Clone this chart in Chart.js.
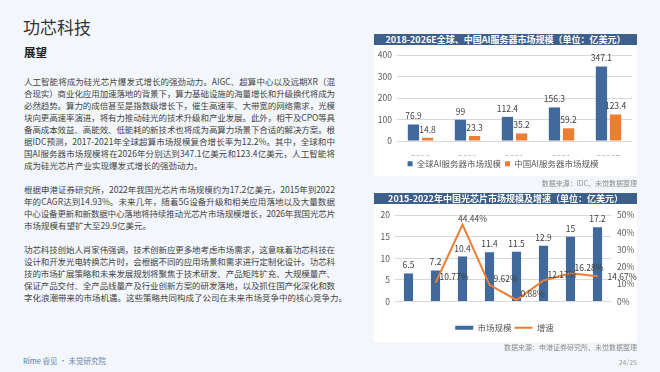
<!DOCTYPE html>
<html>
<head>
<meta charset="utf-8">
<script src="https://cdn.jsdelivr.net/npm/chart.js@4.4.1/dist/chart.umd.min.js"></script>
<style>
  body { margin: 0; width: 660px; height: 372px; overflow: hidden; position: relative;
         background: #f3f7fb; font-family: "Noto Sans CJK SC", "Noto Sans", sans-serif; }
  .abs { position: absolute; }
  #title { left: 23px; top: 15px; font-size: 17px; color: #333; line-height: 24px; }
  #sub { left: 24px; top: 44px; font-size: 11.5px; font-weight: bold; color: #222; line-height: 16px; }
  #txt { left: 24px; top: 75px; font-size: 8.5px; color: #444; }
  #txt div { height: 12px; line-height: 12px; white-space: nowrap; }
  #txt span { display: inline-block; }
  .box { background: #fff; left: 374px; width: 263px; }
  .bar { left: 374px; width: 263px; background: #3d5f8c; color: #fff; font-weight: bold;
         font-size: 9px; text-align: center; line-height: 11px; height: 11px; }
  .src { right: 23px; font-size: 7px; color: #8c8c8c; line-height: 10px; }
  #foot { left: 23px; top: 356px; font-size: 7.5px; color: #6f86a6; line-height: 10px; }
  #foot b { color: #4f74a8; font-weight: normal; }
  #page { right: 23px; top: 357px; font-size: 7px; color: #9a9a9a; line-height: 10px; }
  canvas { position: absolute; }
</style>
</head>
<body>
<div id="title" class="abs">功芯科技</div>
<div id="sub" class="abs">展望</div>
<div id="txt" class="abs"></div>

<div class="abs box" style="top:34px;height:142px"></div>
<div class="abs bar" style="top:34px">2018-2026E全球、中国AI服务器市场规模（单位：亿美元）</div>
<canvas id="c1" width="263" height="140" style="left:374px;top:45px"></canvas>
<div class="abs src" style="top:178px">数据来源：IDC、未觉数据整理</div>

<div class="abs box" style="top:193px;height:149px"></div>
<div class="abs bar" style="top:193px">2015-2022年中国光芯片市场规模及增速（单位：亿美元）</div>
<canvas id="c2" width="263" height="140" style="left:374px;top:204px"></canvas>
<div class="abs src" style="top:342px">数据来源：申港证券研究所、未觉数据整理</div>

<div id="foot" class="abs"><b>Rime</b> 睿见 · 未觉研究院</div>
<div id="page" class="abs">24/25</div>

<script>
const paragraphs = [
  [
    "人工智能将成为硅光芯片爆发式增长的强劲动力。AIGC、超算中心以及远期XR（混",
    "合现实）商业化应用加速落地的背景下，算力基础设施的海量增长和升级换代将成为",
    "必然趋势。算力的成倍甚至是指数级增长下，催生高速率、大带宽的网络需求，光模",
    "块向更高速率演进，将有力推动硅光的技术升级和产业发展。此外，相干及CPO等具",
    "备高成本效益、高能效、低能耗的新技术也将成为高算力场景下合适的解决方案。根",
    "据IDC预测，2017-2021年全球超算市场规模复合增长率为12.2%。其中，全球和中",
    "国AI服务器市场规模将在2026年分别达到347.1亿美元和123.4亿美元，人工智能将",
    "成为硅光芯片产业实现爆发式增长的强劲动力。"
  ],
  [
    "根据申港证券研究所，2022年我国光芯片市场规模约为17.2亿美元，2015年到2022",
    "年的CAGR达到14.93%。未来几年，随着5G设备升级和相关应用落地以及大量数据",
    "中心设备更新和新数据中心落地将持续推动光芯片市场规模增长，2026年我国光芯片",
    "市场规模有望扩大至29.9亿美元。"
  ],
  [
    "功芯科技创始人肖家伟强调，技术创新应更多地考虑市场需求，这意味着功芯科技在",
    "设计和开发光电转换芯片时，会根据不同的应用场景和需求进行定制化设计。功芯科",
    "技的市场扩展策略和未来发展规划将聚焦于技术研发、产品矩阵扩充、大规模量产、",
    "保证产品交付、全产品线量产及行业创新方案的研发落地，以及抓住国产化深化和数",
    "字化浪潮带来的市场机遇。这些策略共同构成了公司在未来市场竞争中的核心竞争力。"
  ]
];

// chart 1
const years1 = ['2018', '2019', '2020', '2021', '2026E'];
const globalAI = [76.9, 99, 112.4, 156.3, 347.1];
const chinaAI = [14.8, 23.3, 35.2, 59.2, 123.4];

// chart 2
const years2 = ['2015', '2016', '2017', '2018', '2019', '2020', '2021', '2022'];
const chipMarket = [6.5, 7.2, 10.4, 11.4, 11.5, 12.9, 15, 17.2];
const chipGrowth = [null, 10.77, 44.44, 9.62, 0.88, 12.17, 16.28, 14.67];

// text block, every line stretched to the same width
const txt = document.getElementById('txt');
const lineW = 311;
paragraphs.forEach((p, pi) => {
  if (pi > 0) txt.appendChild(document.createElement('div'));
  p.forEach((line, li) => {
    const d = document.createElement('div');
    const s = document.createElement('span');
    s.textContent = line;
    d.appendChild(s);
    txt.appendChild(d);
    if (li < p.length - 1) {
      const w = s.getBoundingClientRect().width;
      s.style.letterSpacing = ((lineW - w) / [...line].length) + 'px';
    }
  });
});

Chart.defaults.font.family = '"Noto Sans CJK SC", "Noto Sans", sans-serif';
Chart.defaults.font.size = 8.5;
Chart.defaults.color = '#595959';

const blue = '#41699b', orange = '#ed7d31', grid = '#d9d9d9';

const valueLabels = {
  id: 'valueLabels',
  afterDatasetsDraw(chart) {
    const ctx = chart.ctx;
    ctx.save();
    ctx.font = '8.5px "Noto Sans CJK SC", sans-serif';
    ctx.fillStyle = '#404040';
    chart.data.datasets.forEach((ds, i) => {
      const meta = chart.getDatasetMeta(i);
      meta.data.forEach((el, j) => {
        const v = ds.data[j];
        if (v == null) return;
        if (meta.type === 'line') {
          const top = v === Math.max(...ds.data.filter(x => x != null));
          const last = j === ds.data.length - 1;
          ctx.textAlign = top ? 'center' : 'left';
          ctx.textBaseline = 'middle';
          let x = el.x + 4, y = el.y - 6;
          if (top) x = el.x + 10;
          if (last) { x = el.x + 10; y = el.y + 1; }
          ctx.fillText(v.toFixed(2) + '%', x, y);
        } else {
          ctx.textAlign = 'center';
          ctx.textBaseline = 'bottom';
          ctx.fillText(v, el.x, el.y - 4);
        }
      });
    });
    ctx.restore();
  }
};

// push the legend a little lower than chart.js puts it, so its items can stay close together
const legendShift = dy => ({
  id: 'legendShift',
  afterLayout(chart) {
    chart.legend.top += dy;
    chart.legend.bottom += dy;
  }
});

new Chart(document.getElementById('c1'), {
  type: 'bar',
  data: {
    labels: years1,
    datasets: [
      { label: '全球AI服务器市场规模', data: globalAI, backgroundColor: blue, categoryPercentage: 0.6, barPercentage: 0.8 },
      { label: '中国AI服务器市场规模', data: chinaAI, backgroundColor: orange, categoryPercentage: 0.6, barPercentage: 0.8 }
    ]
  },
  options: {
    responsive: false, animation: false,
    layout: { padding: { top: 8, right: 5, bottom: 7 } },
    plugins: {
      legend: { position: 'bottom', labels: { boxWidth: 5, boxHeight: 5, padding: 4, color: '#595959' } },
      tooltip: { enabled: false }
    },
    scales: {
      x: { grid: { display: false }, border: { display: false }, ticks: { padding: 5 },
           afterFit(s) { s.height = 14.5; } },
      y: { min: 0, max: 400, ticks: { stepSize: 100, padding: 5 },
           grid: { color: grid, drawTicks: false }, border: { display: false },
           afterFit(s) { s.width = 23; } }
    }
  },
  plugins: [valueLabels]
});

new Chart(document.getElementById('c2'), {
  type: 'bar',
  data: {
    labels: years2,
    datasets: [
      { label: '市场规模', data: chipMarket, backgroundColor: blue, categoryPercentage: 0.72, barPercentage: 0.47,
        pointStyle: 'rect', order: 1, yAxisID: 'y' },
      { type: 'line', label: '增速', data: chipGrowth, borderColor: orange, backgroundColor: orange, borderWidth: 2,
        pointRadius: 0, tension: 0, pointStyle: 'line', order: 0, yAxisID: 'y1' }
    ]
  },
  options: {
    responsive: false, animation: false,
    layout: { padding: { top: 10, right: 2, bottom: 7 } },
    plugins: {
      legend: { position: 'bottom',
                labels: { usePointStyle: true, pointStyleWidth: 18, boxHeight: 4, padding: 3, color: '#595959',
                          sort: (a, b) => a.datasetIndex - b.datasetIndex } },
      tooltip: { enabled: false }
    },
    scales: {
      x: { grid: { display: false }, border: { display: false }, ticks: { padding: 5 },
           afterFit(s) { s.height = 14; } },
      y: { min: 0, max: 20, ticks: { stepSize: 5, padding: 5 },
           grid: { color: grid, drawTicks: false }, border: { display: false },
           afterFit(s) { s.width = 21; } },
      y1: { position: 'right', min: 0, max: 50, ticks: { stepSize: 10, padding: 6, callback: v => v + '%' },
            grid: { drawOnChartArea: false, drawTicks: false }, border: { display: false },
            afterFit(s) { s.width = 24; } }
    }
  },
  plugins: [valueLabels, legendShift(5)]
});
</script>
</body>
</html>
